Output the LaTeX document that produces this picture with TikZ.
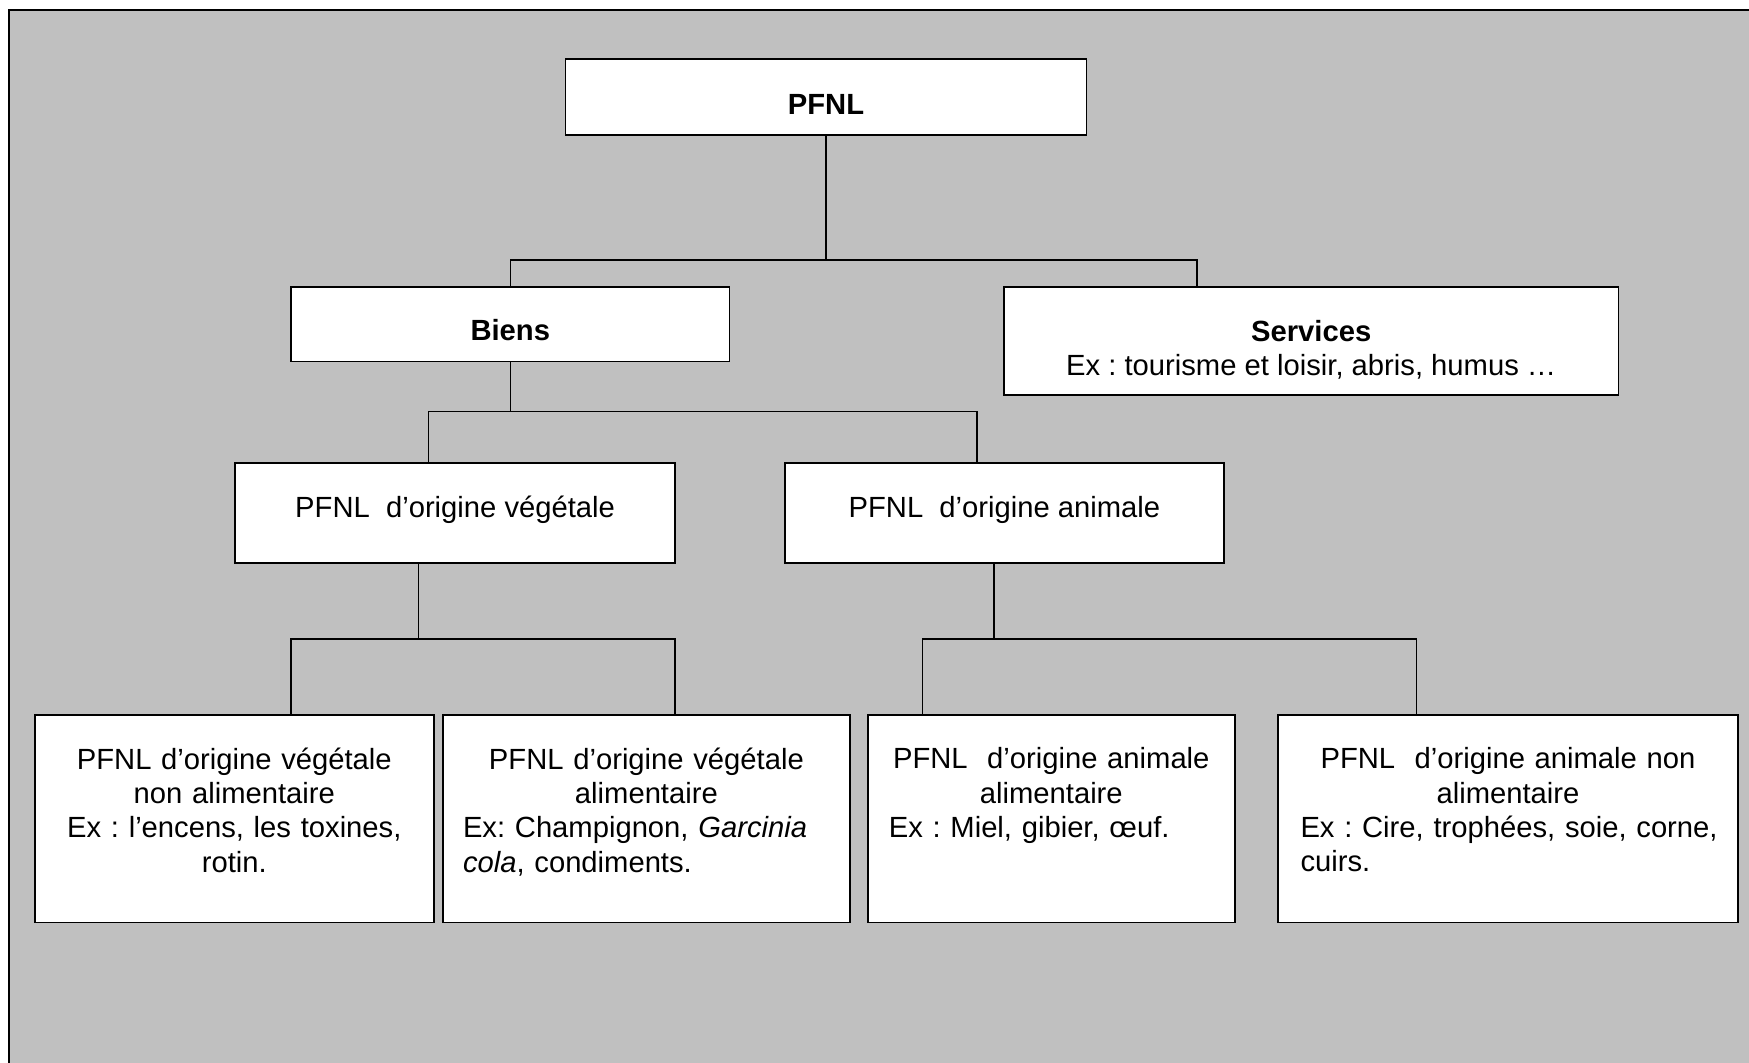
\documentclass[tikz,border=0pt]{standalone}
\usepackage{fontspec}
\setmainfont{Liberation Sans}
\usepackage{xcolor}
\usepackage{tikz}
\usetikzlibrary{positioning}
\definecolor{fondgris}{HTML}{C0C0C0}
\frenchspacing

\begin{document}
\begin{tikzpicture}[x=0.5pt, y=-0.5pt,
	boite/.style={draw=black, fill=white, line width=0.9pt, rectangle, inner sep=0pt, align=center, font=\fontsize{14.6}{17.2}\selectfont},
	texte/.style={inner sep=0pt, align=center, font=\fontsize{14.6}{17.2}\selectfont},
	lien/.style={draw=black, line width=0.75pt}]
	\useasboundingbox (0,0) rectangle (1749,1062);
	\clip (0,0) rectangle (1749,1062);
	\draw[draw=black, fill=fondgris, line width=1.3pt] (9.00,10.00) rectangle (1770.00,1080.00);

	\node[boite, minimum width=260.5pt, minimum height=38pt, text height=17pt] (pfnl) at (826.00,97.00) {\textbf{PFNL}};
	\node[boite, minimum width=219.2pt, minimum height=37.4pt, text height=16.5pt] (biens) at (510.30,324.00) {\textbf{Biens}};
	\node[boite, minimum width=307.3pt, minimum height=54pt] (services) at (1311.20,340.80) {\rule{0pt}{19.5pt}\textbf{Services}\\Ex : tourisme et loisir, abris, humus …};
	\node[boite, minimum width=219.8pt, minimum height=50.2pt, text depth=6.5pt] (vegetale) at (455.10,513.10) {PFNL\ \ d’origine végétale};
	\node[boite, minimum width=219.2pt, minimum height=50.2pt, text depth=6.5pt] (animale) at (1004.40,513.10) {PFNL\ \ d’origine animale};

	\node[boite, minimum width=199.7pt, minimum height=103.7pt] (vegnonal) at (234.30,818.70) {};
	\node[boite, minimum width=203.6pt, minimum height=103.7pt] (vegal) at (646.40,818.70) {};
	\node[boite, minimum width=183.5pt, minimum height=103.7pt] (animal) at (1051.30,818.70) {};
	\node[boite, minimum width=229.8pt, minimum height=103.7pt] (animnonal) at (1508.00,818.70) {};

	\node[texte, text width=178.7pt, below=16.5pt of vegnonal.north] (tvegnonal) {PFNL d’origine végétale\\non alimentaire\\Ex : l’encens, les toxines,\\rotin.};
	\node[texte, text width=183.4pt, below=16.5pt of vegal.north] (tvegal) {PFNL d’origine végétale\\alimentaire\\\makebox[\hsize][l]{Ex: Champignon, \textit{Garcinia}}\\\makebox[\hsize][l]{\textit{cola}, condiments.}};
	\node[texte, text width=162.5pt, below=16.5pt of animal.north] (tanimal) {PFNL\ \ d’origine animale\hspace{8pt}\\alimentaire\\\makebox[\hsize][l]{Ex : Miel, gibier, œuf.}};
	\node[texte, text width=207.5pt, below=16.5pt of animnonal.north] (tanimnonal) {PFNL\ \ d’origine animale non\\alimentaire\\\makebox[\hsize][l]{Ex : Cire, trophées, soie, corne,}\\\makebox[\hsize][l]{cuirs.}};

	\coordinate (jtop) at (826.00,259.90);
	\coordinate (sdrop) at (1196.80,286.70);
	\coordinate (jb) at (510.30,411.60);
	\coordinate (vdrop) at (428.30,462.90);
	\coordinate (adrop) at (977.10,462.90);
	\coordinate (vsrc) at (418.30,563.30);
	\coordinate (jv) at (418.30,639.10);
	\coordinate (asrc) at (993.80,563.30);
	\coordinate (ja) at (993.80,639.10);
	\coordinate (d1) at (291.10,715.00);
	\coordinate (d2) at (674.80,715.00);
	\coordinate (d3) at (922.40,715.00);
	\coordinate (d4) at (1416.50,715.00);

	\draw[lien] (pfnl.south) -- (jtop);
	\draw[lien] (biens.north) |- (jtop) -| (sdrop);
	\draw[lien] (biens.south) -- (jb);
	\draw[lien] (vdrop) |- (jb) -| (adrop);
	\draw[lien] (vsrc) -- (jv);
	\draw[lien] (d1) |- (jv) -| (d2);
	\draw[lien] (asrc) -- (ja);
	\draw[lien] (d3) |- (ja) -| (d4);
\end{tikzpicture}
\end{document}
